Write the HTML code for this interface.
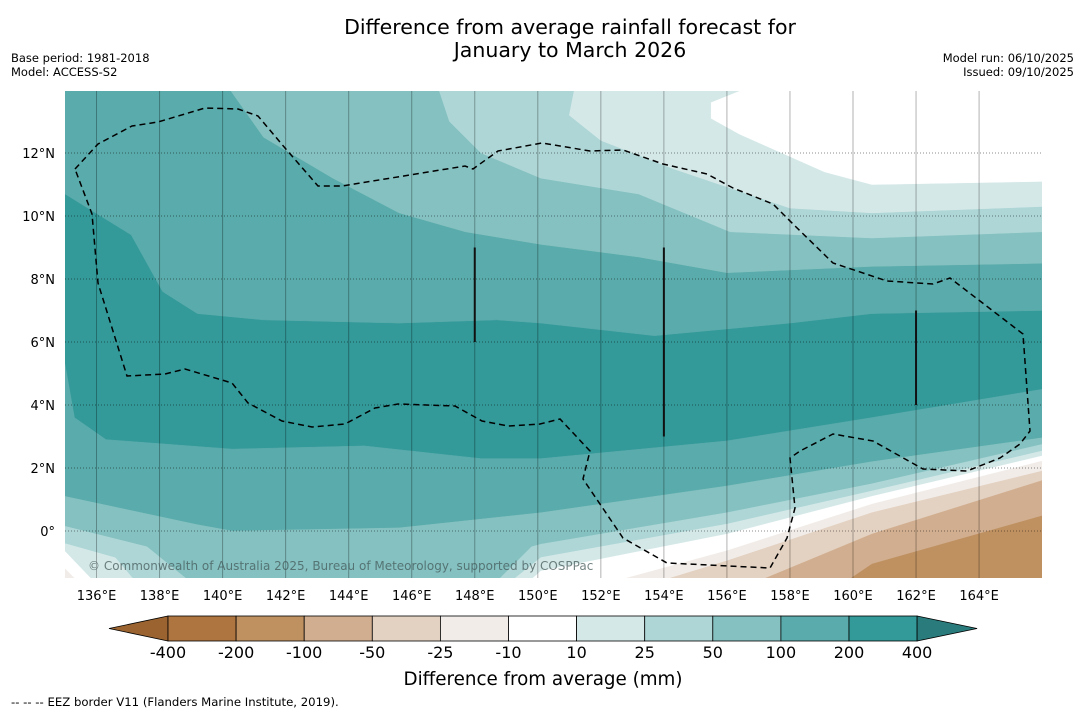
<!DOCTYPE html>
<html><head><meta charset="utf-8">
<style>
body{margin:0;background:#fff;width:1085px;height:713px;overflow:hidden;font-family:"DejaVu Sans","Liberation Sans",sans-serif;}
svg{position:absolute;left:0;top:0;}
</style></head>
<body>
<svg id="chart" width="1085" height="713" font-family="DejaVu Sans, Liberation Sans, sans-serif">
<text x="570" y="34" text-anchor="middle" font-size="20.5">Difference from average rainfall forecast for</text>
<text x="570" y="57" text-anchor="middle" font-size="20.5">January to March 2026</text>
<text x="11" y="62" font-size="11.5">Base period: 1981-2018</text>
<text x="11" y="76" font-size="11.5">Model: ACCESS-S2</text>
<text x="1074" y="62" font-size="11.5" text-anchor="end">Model run: 06/10/2025</text>
<text x="1074" y="76" font-size="11.5" text-anchor="end">Issued: 09/10/2025</text>
<defs><clipPath id="mapclip"><rect x="65" y="91" width="977" height="487"/></clipPath></defs>
<g id="map" clip-path="url(#mapclip)"></g>
<g id="axes"></g>
<g id="cbar"></g>
<text x="543" y="685" text-anchor="middle" font-size="18.3">Difference from average (mm)</text>
<text x="11" y="706" font-size="11.7">--  --  -- EEZ border V11 (Flanders Marine Institute, 2019).</text>
</svg>
<script>
// contour levels & colours
const levels = [-400,-200,-100,-50,-25,-10,10,25,50,100,200,400];
const bandColors = ["#ae7540","#bf9161","#d1ae8f","#e3d1c1","#f1ece8","#ffffff","#d5e8e8","#aed6d6","#85c1c1","#5aabab","#339999"];
const latTicks = [0,2,4,6,8,10,12];
const lonTicks = [136,138,140,142,144,146,148,150,152,154,156,158,160,162,164];
// north contour boundaries [lon,lat]
const north200 = [[135,10.7],[137.1,9.4],[138.1,7.6],[139.2,6.9],[141.3,6.7],[145.6,6.6],[148.7,6.7],[150.1,6.6],[153.7,6.2],[158,6.6],[160.6,6.9],[166,7.0]];
const north100 = [[140.1,14.2],[141.3,12.5],[143.5,11.2],[145.6,10.1],[147.7,9.5],[150.1,9.1],[153.2,8.7],[156,8.2],[160.6,8.4],[166,8.5]];
const north50 = [[146.8,14.2],[147.2,13.0],[148.2,12.0],[150.1,11.2],[153.2,10.7],[156.1,9.5],[160.6,9.3],[166,9.5]];
const north25 = [[151.2,14.2],[151.0,13.2],[152.0,12.4],[154.3,11.5],[158,10.25],[160.6,10.1],[166,10.3]];
const north10 = [[157.0,14.2],[155.5,13.6],[155.5,13.1],[156.4,12.6],[159.1,11.4],[160.6,11.0],[166,11.1]];
// south contour boundaries
const south200 = [[135,5.3],[135.3,3.6],[136.3,2.9],[140.3,2.6],[144.5,2.7],[148.2,2.3],[150.1,2.3],[156,2.86],[160.6,3.6],[166,4.5]];
const south100 = [[135,1.1],[139.2,0.2],[140.3,0],[145.6,0.1],[150.1,0.58],[156,1.43],[160.6,2.2],[166,2.96]];
const south50 = [[135,0.15],[137.6,-0.5],[139.2,-1.8],[148.5,-1.8],[149.8,-0.5],[150.1,-0.42],[156,0.58],[160.6,1.5],[166,2.75]];
const south25 = [[135,-0.4],[136.6,-0.85],[137.4,-1.8],[148.9,-1.8],[150.1,-0.84],[156,0.22],[160.6,1.27],[166,2.54]];
const south10 = [[135,-0.65],[136.1,-1.8],[149.5,-1.8],[150.1,-1.27],[156,-0.1],[160.6,1.1],[166,2.38]];
const southM10 = [[135,-1.2],[135.6,-1.8],[151.7,-1.8],[156,-0.63],[160.6,0.85],[166,2.22]];
const southM25 = [[153.2,-1.8],[156,-0.95],[160.6,0.58],[166,1.9]];
const southM50 = [[156.5,-1.8],[160.6,-0.1],[166,1.6]];
const southM100 = [[159.5,-1.8],[160.6,-1.05],[166,0.48]];
// EEZ boundary (pixel trace of overlay)
const eezPath = [[75,169],[98,144],[132,126],[158,122],[205,108],[238,109],[258,116],[285,148],[318,186],[342,186],[465,166],[473,169],[498,151],[542,143],[590,151],[623,150],[663,164],[707,174],[733,188],[773,204],[793,224],[833,263],[887,281],[933,284],[950,278],[1023,334],[1030,431],[1020,444],[1000,458],[967,471],[923,469],[873,441],[833,434],[800,451],[790,458],[795,508],[787,538],[770,568],[667,563],[623,538],[583,479],[590,451],[560,419],[540,424],[508,426],[482,421],[455,406],[398,404],[375,408],[345,424],[312,427],[282,421],[248,403],[232,383],[185,369],[165,374],[127,376],[98,283],[92,214],[75,169]];
const segLon = [148,154,162], segLat0=[6,3,4], segLat1=[9,9,7];

const X = lon => 65 + (lon-135)*31.52;
const Y = lat => 531 - lat*31.5;
const NS="http://www.w3.org/2000/svg";
function mk(tag, attrs, parent){const e=document.createElementNS(NS,tag);for(const k in attrs)e.setAttribute(k,attrs[k]);parent.appendChild(e);return e;}
const map=document.getElementById('map');
const bg=mk('rect',{x:65,y:91,width:977,height:487,fill:bandColors[10]},map);


function poly(pts, closeLat, color, name){
  const p=pts.map(q=>X(q[0]).toFixed(1)+','+Y(q[1]).toFixed(1));
  p.push(X(166.5)+','+Y(closeLat)); p.push(X(pts[0][0]===135?134.5:pts[0][0])+','+Y(closeLat));
  if(pts[0][0]===135) p.splice(0,0,X(134.5)+','+Y(pts[0][1]));
  const e=mk('polygon',{points:p.join(' '),fill:color,stroke:color,'stroke-width':0.5},map);
  
  
}
poly(north200,15,bandColors[9],'band-north-100-200');
poly(north100,15,bandColors[8],'band-north-50-100');
poly(north50,15,bandColors[7],'band-north-25-50');
poly(north25,15,bandColors[6],'band-north-10-25');
poly(north10,15,bandColors[5],'band-north-neutral');
poly(south200,-3,bandColors[9],'band-south-100-200');
poly(south100,-3,bandColors[8],'band-south-50-100');
poly(south50,-3,bandColors[7],'band-south-25-50');
poly(south25,-3,bandColors[6],'band-south-10-25');
poly(south10,-3,bandColors[5],'band-south-neutral');
poly(southM10,-3,bandColors[4],'band-south-minus10-25');
poly(southM25,-3,bandColors[3],'band-south-minus25-50');
poly(southM50,-3,bandColors[2],'band-south-minus50-100');
poly(southM100,-3,bandColors[1],'band-south-minus100-200');
// gridlines
lonTicks.forEach(l=>{const g=mk('line',{x1:X(l),x2:X(l),y1:91,y2:578,stroke:'rgba(0,0,0,0.3)','stroke-width':1},map);

});
latTicks.forEach(l=>{const g=mk('line',{x1:65,x2:1042,y1:Y(l),y2:Y(l),stroke:'rgba(0,0,0,0.45)','stroke-width':1,'stroke-dasharray':'1,2'},map);

});
// EEZ
const ez=mk('polyline',{points:eezPath.map(p=>p.join(',')).join(' '),fill:'none',stroke:'#000','stroke-width':1.5,'stroke-dasharray':'6,4'},map);


segLon.forEach((l,i)=>{const s=mk('line',{x1:X(l),x2:X(l),y1:Y(segLat1[i]),y2:Y(segLat0[i]),stroke:'#111','stroke-width':2},map);

});
const cp=mk('text',{x:88,y:570,'font-size':12,fill:'rgba(70,90,90,0.75)'},map);
cp.textContent='© Commonwealth of Australia 2025, Bureau of Meteorology, supported by COSPPac';


// axes labels
const axes=document.getElementById('axes');
latTicks.forEach(l=>{const t=mk('text',{x:55,y:Y(l)+5,'text-anchor':'end','font-size':13},axes);
t.textContent=l===0?'0°':l+'°N';

});
lonTicks.forEach(l=>{const t=mk('text',{x:X(l),y:600,'text-anchor':'middle','font-size':13},axes);
t.textContent=l+'°E';

});
// colorbar
const cb=document.getElementById('cbar');
const cx0=168, cw=68.1, cy=616, ch=25;
const lt=mk('polygon',{points:`109,${cy+ch/2} ${cx0},${cy} ${cx0},${cy+ch}`,fill:'#9a6330',stroke:'#000','stroke-width':0.8},cb);


bandColors.forEach((c,i)=>{const r=mk('rect',{x:cx0+i*cw,y:cy,width:cw,height:ch,fill:c,stroke:'#000','stroke-width':0.8},cb);

});
const ex=cx0+bandColors.length*cw;
const rt=mk('polygon',{points:`${ex},${cy} ${ex+60},${cy+ch/2} ${ex},${cy+ch}`,fill:'#2a7b7b',stroke:'#000','stroke-width':0.8},cb);


levels.forEach((v,i)=>{const t=mk('text',{x:cx0+i*cw,y:658,'text-anchor':'middle','font-size':16},cb);
t.textContent=v;

});
</script>
</body></html>
